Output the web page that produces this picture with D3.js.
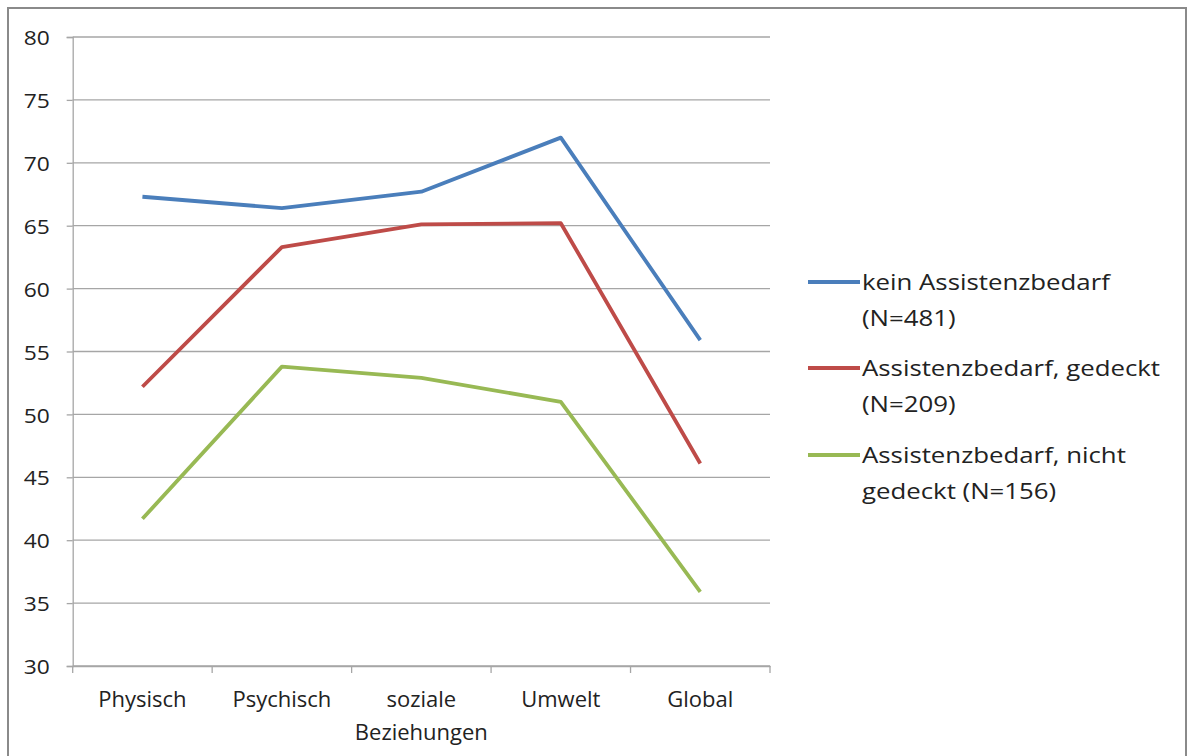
<!DOCTYPE html>
<html>
<head>
<meta charset="utf-8">
<script src="https://cdn.jsdelivr.net/npm/d3@7"></script>
<style>
  body { margin: 0; background: #fff; }
  text { font-family: "Open Sans", sans-serif; fill: #222; }
</style>
</head>
<body>
<svg id="chart" width="1188" height="756"></svg>
<script>
// data
var categories = ["Physisch", "Psychisch", "soziale Beziehungen", "Umwelt", "Global"];
var kein = [67.3, 66.4, 67.7, 72.0, 55.9];
var gedeckt = [52.2, 63.3, 65.1, 65.2, 46.1];
var nichtGedeckt = [41.7, 53.8, 52.9, 51.0, 35.9];
var seriesNames = [
    ["kein Assistenzbedarf", "(N=481)"],
    ["Assistenzbedarf, gedeckt", "(N=209)"],
    ["Assistenzbedarf, nicht", "gedeckt (N=156)"]
];
var seriesColors = ["#4a7ebb", "#be4b48", "#98b954"];
var yTicks = [30, 35, 40, 45, 50, 55, 60, 65, 70, 75, 80];

function drawChart() {
    var svg = d3.select("#chart");

    // outer frame
    svg.append("rect")
        .attr("x", 8).attr("y", 8)
        .attr("width", 1178).attr("height", 760)
        .attr("fill", "none")
        .attr("stroke", "#8a8a8a")
        .attr("stroke-width", 2);

    var left = 72.7, right = 770, top = 37, bottom = 666;

    var x = d3.scaleBand().domain(categories).range([left, right]);
    var y = d3.scaleLinear().domain([30, 80]).range([bottom, top]);

    // gridlines
    svg.append("g")
        .selectAll("line")
        .data(yTicks)
        .enter()
        .append("line")
        .attr("x1", left).attr("x2", right)
        .attr("y1", d => y(d)).attr("y2", d => y(d))
        .attr("stroke", "#a6a6a6")
        .attr("stroke-width", 1.3);

    // y axis
    var yAxis = svg.append("g")
        .attr("transform", "translate(" + left + ",0)")
        .call(d3.axisLeft(y).tickValues(yTicks).tickSize(6).tickPadding(17));
    yAxis.select(".domain").attr("stroke", "#a6a6a6").attr("stroke-width", 1.3);
    yAxis.selectAll(".tick line").attr("stroke", "#a6a6a6").attr("stroke-width", 1.3);
    yAxis.selectAll("text")
        .style("font-size", "20px")
        .attr("fill", "#222")
        .attr("x", 0)
        .attr("dy", "0.38em")
        .attr("transform", "translate(-23,0) scale(1.14,1)");

    // x axis
    var xAxis = svg.append("g")
        .attr("transform", "translate(0," + bottom + ")")
        .call(d3.axisBottom(x).tickSize(0).tickFormat(""));
    xAxis.select(".domain").attr("stroke", "#a6a6a6").attr("stroke-width", 1.3);

    // category boundary ticks
    svg.append("g")
        .selectAll("line")
        .data(categories.concat(["end"]))
        .enter()
        .append("line")
        .attr("x1", (d, i) => i < categories.length ? x(d) : right)
        .attr("x2", (d, i) => i < categories.length ? x(d) : right)
        .attr("y1", bottom).attr("y2", bottom + 7)
        .attr("stroke", "#a6a6a6")
        .attr("stroke-width", 1.3);

    // category labels (wrapped)
    var labels = svg.append("g")
        .selectAll("text")
        .data(categories)
        .enter()
        .append("text")
        .attr("text-anchor", "middle")
        .style("font-size", "22px")
        .attr("x", d => x(d) + x.bandwidth() / 2)
        .attr("y", 707);
    labels.each(function (d) {
        var words = d === "soziale Beziehungen" ? ["soziale", "Beziehungen"] : [d];
        var t = d3.select(this);
        var cx = x(d) + x.bandwidth() / 2;
        words.forEach((w, i) => {
            t.append("tspan").attr("x", cx).attr("dy", i === 0 ? 0 : 33).text(w);
        });
    });

    // lines
    var allSeries = [kein, gedeckt, nichtGedeckt];
    var line = d3.line()
        .x((d, i) => x(categories[i]) + x.bandwidth() / 2)
        .y(d => y(d));

    svg.append("g")
        .selectAll("path")
        .data(allSeries)
        .enter()
        .append("path")
        .attr("d", d => line(d))
        .attr("fill", "none")
        .attr("stroke", (d, i) => seriesColors[i])
        .attr("stroke-width", 3.8)
        .attr("stroke-linejoin", "round");

    // legend
    var legendTop = [282, 368, 455];
    var legend = svg.append("g")
        .selectAll("g")
        .data(seriesNames)
        .enter()
        .append("g")
        .attr("transform", (d, i) => "translate(808," + legendTop[i] + ")");
    legend.append("line")
        .attr("x1", 0).attr("x2", 52)
        .attr("y1", 0).attr("y2", 0)
        .attr("stroke", (d, i) => seriesColors[i])
        .attr("stroke-width", 3.8);
    legend.append("text")
        .attr("transform", "translate(54,8) scale(1.2,1)")
        .style("font-size", "21.5px")
        .selectAll("tspan")
        .data(d => d)
        .enter()
        .append("tspan")
        .attr("x", 0)
        .attr("y", (d, i) => i * 36)
        .text(d => d);
}

drawChart();
</script>
</body>
</html>
